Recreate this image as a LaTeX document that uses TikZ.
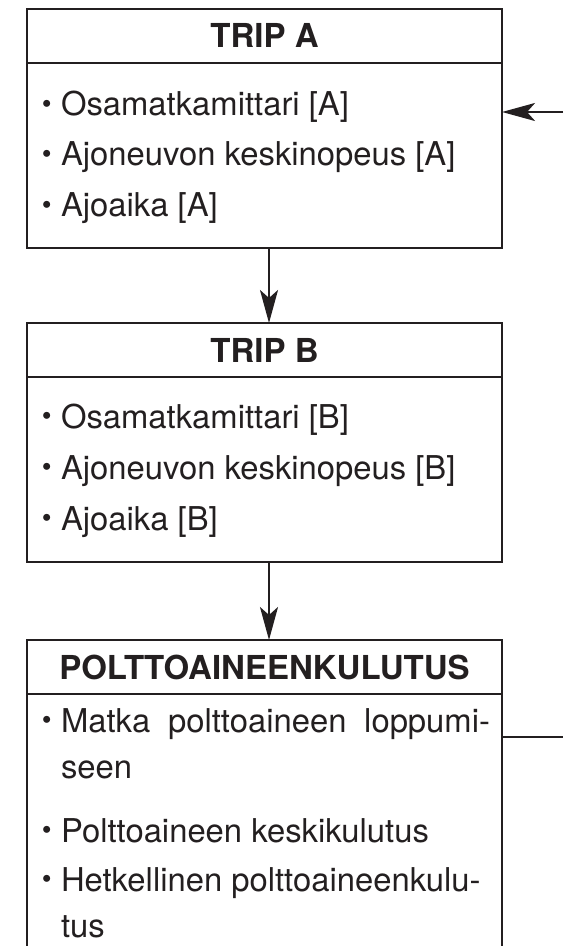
\documentclass[tikz,border=0pt]{standalone}
\usepackage{fontspec}
\setmainfont{TeX Gyre Heros}
\usetikzlibrary{
  arrows.meta,
  positioning
}
\definecolor{ink}{RGB}{35,31,32}
\setlength{\parindent}{0pt}
\newcommand{\itemdot}{\makebox[9.5pt][l]{\raisebox{1.2pt}{\fontsize{14}{14}\selectfont\textbullet}}}
\tikzset{
  head/.style={draw=ink,line width=1pt,minimum width=237.5pt,minimum height=27pt,
    inner sep=0pt,outer sep=0pt,text height=12pt,text depth=0pt,
    font=\fontsize{16.5}{16.5}\selectfont\bfseries,text=ink},
  panel/.style={draw=ink,line width=1pt,minimum width=237.5pt,minimum height=92.5pt,
    inner sep=0pt,outer sep=0pt},
  entry/.style={anchor=base west,inner sep=0pt,outer sep=0pt,text=ink,
    font=\fontsize{16.4}{23}\selectfont},
  longentry/.style={entry,text width=214.5pt,align=justify},
  flow/.style={-{Stealth[length=16.5pt,width=9pt,inset=4pt]},line width=1.2pt,draw=ink},
  link/.style={line width=1pt,draw=ink}
}

\begin{document}
\begin{tikzpicture}[x=0.5pt,y=-0.5pt]
  \useasboundingbox (0,0) rectangle (563,946);
  \clip (0,0) rectangle (563,946);
  % the three boxes
  \node[head] (heada) at (264.5,36) {TRIP A};
  \node[panel,below=0pt of heada] (lista) {};
  \node[head,below=37.5pt of lista] (headb) {TRIP B};
  \node[panel,below=0pt of headb] (listb) {};
  \node[head,below=39pt of listb] (headc) {POLTTOAINEENKULUTUS};
  \node[panel,below=0pt of headc,minimum height=150pt] (listc) {};
  % entries
  \node[entry] (a1) at (61,116) {\llap{\itemdot}Osamatkamittari [A]};
  \node[entry] (a2) at (61,166) {\llap{\itemdot}Ajoneuvon keskinopeus [A]};
  \node[entry] (a3) at (61,217) {\llap{\itemdot}Ajoaika [A]};
  \node[entry] (b1) at (61,428) {\llap{\itemdot}Osamatkamittari [B]};
  \node[entry] (b2) at (61,479) {\llap{\itemdot}Ajoneuvon keskinopeus [B]};
  \node[entry] (b3) at (61,530) {\llap{\itemdot}Ajoaika [B]};
  \node[longentry] (c1) at (61,732) {\llap{\itemdot}Matka polttoaineen loppumi-\linebreak seen};
  \node[entry] (c2) at (61,842) {\llap{\itemdot}Polttoaineen keskikulutus};
  \node[longentry] (c3) at (61,891) {\llap{\itemdot}Hetkellinen polttoaineenkulu-\newline tus};
  % connectors
  \coordinate (intoa) at (563,112);
  \coordinate (outofc) at (563,737);
  \draw[flow] ([xshift=2.25pt]lista.south) -- ([xshift=2.25pt]headb.north);
  \draw[flow] ([xshift=2.25pt]listb.south) -- ([xshift=2.25pt]headc.north);
  \draw[flow] (intoa) -- (intoa -| lista.east);
  \draw[link] (outofc -| listc.east) -- (outofc);
\end{tikzpicture}
\end{document}
